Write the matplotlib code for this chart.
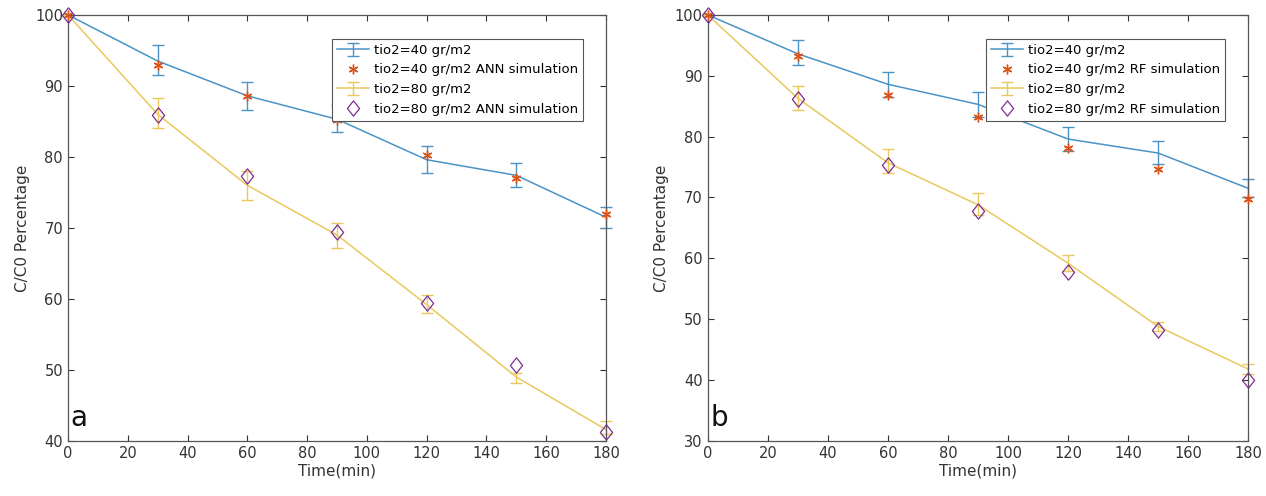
import numpy as np
import matplotlib.pyplot as plt
from matplotlib.path import Path

# -----------------------------
# Data
# -----------------------------
time_min = [0, 30, 60, 90, 120, 150, 180]

# panel a
a_40_mean = [100, 93.5, 88.6, 85.3, 79.6, 77.4, 71.5]
a_40_low = [100, 91.5, 86.6, 83.5, 77.7, 75.7, 70.0]
a_40_high = [100, 95.7, 90.6, 87.3, 81.6, 79.2, 73.0]
a_40_ann = [100, 93.0, 88.6, 85.2, 80.3, 77.0, 71.9]

a_80_mean = [100, 86.0, 76.0, 69.0, 59.2, 49.0, 41.6]
a_80_low = [100, 84.1, 74.0, 67.2, 58.0, 48.2, 41.0]
a_80_high = [100, 88.3, 78.0, 70.7, 60.5, 49.6, 42.8]
a_80_ann = [100, 85.9, 77.3, 69.4, 59.4, 50.7, 41.2]

# panel b
b_40_mean = [100, 93.6, 88.6, 85.3, 79.6, 77.3, 71.5]
b_40_low = [100, 91.7, 86.5, 83.3, 77.7, 75.5, 70.0]
b_40_high = [100, 95.8, 90.6, 87.3, 81.6, 79.2, 73.0]
b_40_rf = [100, 93.2, 86.8, 83.2, 78.2, 74.6, 69.8]

b_80_mean = [100, 86.3, 75.7, 68.8, 59.2, 48.8, 41.8]
b_80_low = [100, 84.3, 74.0, 67.2, 58.0, 48.0, 41.0]
b_80_high = [100, 88.3, 78.0, 70.7, 60.5, 49.5, 42.6]
b_80_rf = [100, 86.2, 75.3, 67.8, 57.8, 48.2, 40.0]

C_BLUE = "#4a93c6"
C_ORANGE = "#d95319"
C_YELLOW = "#e9c85c"
C_PURPLE = "#7e2f8e"

# matlab-like diamond (a bit taller than wide)
DIAMOND = Path([(0, 1), (0.8, 0), (0, -1), (-0.8, 0), (0, 1)],
               [Path.MOVETO, Path.LINETO, Path.LINETO, Path.LINETO, Path.CLOSEPOLY])


def draw_panel(ax, mean40, lo40, hi40, sim40, mean80, lo80, hi80, sim80, model, ylim, letter):
    t = np.array(time_min)
    m40 = np.array(mean40)
    m80 = np.array(mean80)
    err40 = [m40 - np.array(lo40), np.array(hi40) - m40]
    err80 = [m80 - np.array(lo80), np.array(hi80) - m80]

    h1 = ax.errorbar(t, m40, yerr=err40, color=C_BLUE, lw=1.1, capsize=4, elinewidth=1.0,
                     label="tio2=40 gr/m2")
    h2, = ax.plot(t, sim40, ls="none", marker=(6, 2, 0), ms=7, mew=1.0, color=C_ORANGE,
                  label=f"tio2=40 gr/m2 {model} simulation", clip_on=False, zorder=4)
    h3 = ax.errorbar(t, m80, yerr=err80, color=C_YELLOW, lw=1.1, capsize=4, elinewidth=1.0,
                     label="tio2=80 gr/m2")
    h4, = ax.plot(t, sim80, ls="none", marker=DIAMOND, ms=11, mew=0.9, mfc="none", color=C_PURPLE,
                  label=f"tio2=80 gr/m2 {model} simulation", clip_on=False, zorder=4)
    for h in (h1, h3):
        for art in h.get_children():
            art.set_clip_on(False)

    ax.set_xlim(0, 180)
    ax.set_ylim(*ylim)
    ax.set_xticks(np.arange(0, 181, 20))
    ax.set_yticks(np.arange(ylim[0], 101, 10))
    ax.tick_params(direction="in", top=True, right=True, labelsize=10.5, colors="#333333",
                   length=4)
    for s in ax.spines.values():
        s.set_color("#555555")
        s.set_linewidth(0.9)
    ax.set_xlabel("Time(min)", fontsize=11, color="#333333", labelpad=2)
    ax.set_ylabel("C/C0 Percentage", fontsize=11, color="#333333")
    ax.text(0.005, 0.035, letter, transform=ax.transAxes, fontsize=20, color="#111111")
    leg = ax.legend(handles=[h1, h2, h3, h4], loc="upper right", bbox_to_anchor=(0.97, 0.96),
                    fontsize=9.5, fancybox=False, framealpha=1, edgecolor="#555555",
                    handlelength=2.4, borderpad=0.4, labelspacing=0.5, handletextpad=0.4)
    leg.get_frame().set_linewidth(0.8)


fig = plt.figure(figsize=(12.66, 4.96), dpi=100)
ax1 = fig.add_axes([0.0537, 0.111, 0.425, 0.859])
ax2 = fig.add_axes([0.559, 0.111, 0.427, 0.859])

draw_panel(ax1, a_40_mean, a_40_low, a_40_high, a_40_ann,
           a_80_mean, a_80_low, a_80_high, a_80_ann, "ANN", (40, 100), "a")
draw_panel(ax2, b_40_mean, b_40_low, b_40_high, b_40_rf,
           b_80_mean, b_80_low, b_80_high, b_80_rf, "RF", (30, 100), "b")

fig.savefig("out.png", dpi=100)
